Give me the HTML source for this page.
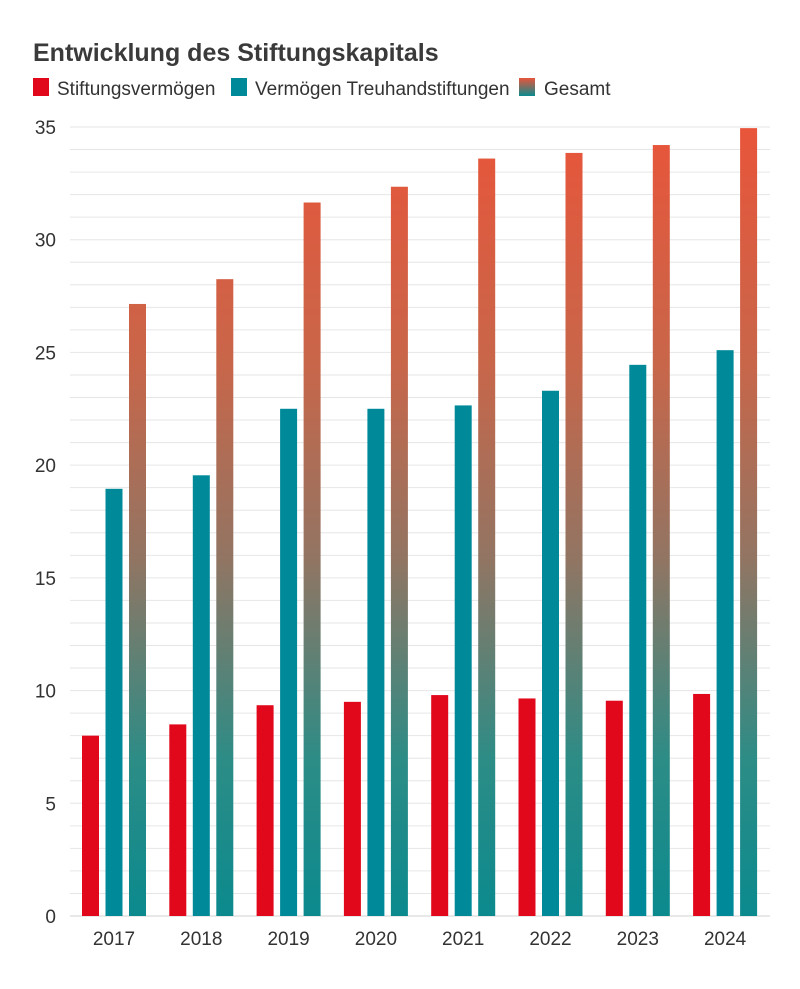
<!DOCTYPE html>
<html><head><meta charset="utf-8">
<style>
body{margin:0;background:#fff;}
svg text{font-family:"Liberation Sans Narrow","Liberation Sans",sans-serif;fill:#333;}
</style></head>
<body>
<svg id="chart" width="800" height="984" viewBox="0 0 800 984" xmlns="http://www.w3.org/2000/svg">
<defs>
<linearGradient id="gesamtGrad" gradientUnits="userSpaceOnUse" x1="0" y1="127" x2="0" y2="916">
<stop offset="0" stop-color="#e8553a"/>
<stop offset="0.3" stop-color="#c8664a"/>
<stop offset="0.55" stop-color="#917563"/>
<stop offset="0.8" stop-color="#2d8c86"/>
<stop offset="1" stop-color="#0b8a8e"/>
</linearGradient>
<linearGradient id="legendGrad" x1="0" y1="0" x2="0" y2="1">
<stop offset="0" stop-color="#e8553a"/>
<stop offset="1" stop-color="#0b8a8e"/>
</linearGradient>
</defs>
<text x="33" y="61" style="font-family:'Liberation Sans',sans-serif;font-weight:bold;font-size:25px;fill:#3a3a3a">Entwicklung des Stiftungskapitals</text>
<g>
<rect x="33" y="78" width="16" height="18" fill="#e2081c"/>
<text x="57" y="95" font-size="19">Stiftungsvermögen</text>
<rect x="231" y="78" width="16" height="18" fill="#008a99"/>
<text x="255" y="95" font-size="19">Vermögen Treuhandstiftungen</text>
<rect x="519" y="78" width="16" height="18" fill="url(#legendGrad)"/>
<text x="544" y="95" font-size="19">Gesamt</text>
</g>
<g id="grid"></g>
<g id="bars"></g>
<g id="labels"></g>
</svg>
<script>
const years = ["2017","2018","2019","2020","2021","2022","2023","2024"];
const stiftungsvermoegen = [8.0, 8.5, 9.35, 9.5, 9.8, 9.65, 9.55, 9.85];
const treuhand = [18.95, 19.55, 22.5, 22.5, 22.65, 23.3, 24.45, 25.1];
const gesamt = [27.15, 28.25, 31.65, 32.35, 33.6, 33.85, 34.2, 34.95];
const yTicks = [0,5,10,15,20,25,30,35];

const NS="http://www.w3.org/2000/svg";
const y0=916, yTop=127, yMax=35, left=70, right=770;
const groupStart=114, groupStep=87.3, barW=17, barGap=23.5;
function y(v){return y0-(v/yMax)*(y0-yTop);}
function xc(i){return groupStart+i*groupStep;}
function mk(tag,attrs,parent){const e=document.createElementNS(NS,tag);for(const k in attrs)e.setAttribute(k,attrs[k]);parent.appendChild(e);return e;}
const grid=document.getElementById('grid'), bars=document.getElementById('bars'), labels=document.getElementById('labels');
for(let v=0;v<=yMax;v++){
  const l=mk('line',{x1:left,x2:right,y1:y(v),y2:y(v),stroke:v===0?'#d0d0d0':'#e6e6e6','stroke-width':1},grid);
  
  
}
yTicks.forEach(t=>{
  const tx=mk('text',{x:56,y:y(t)+7,'text-anchor':'end','font-size':19},labels);
  tx.textContent=t;
  
  
});
years.forEach((yr,i)=>{
  const c=xc(i);
  const series=[[stiftungsvermoegen[i],'#e2081c','bar-stiftungsvermoegen'],[treuhand[i],'#008a99','bar-treuhand'],[gesamt[i],'url(#gesamtGrad)','bar-gesamt']];
  series.forEach((s,j)=>{
    const bx=c+(j-1)*barGap-barW/2;
    const r=mk('rect',{x:bx,y:y(s[0]),width:barW,height:y0-y(s[0]),fill:s[1]},bars);
    
    
  });
  const tx=mk('text',{x:c,y:945,'text-anchor':'middle','font-size':19},labels);
  tx.textContent=yr;
  
  
});
</script>
</body></html>
